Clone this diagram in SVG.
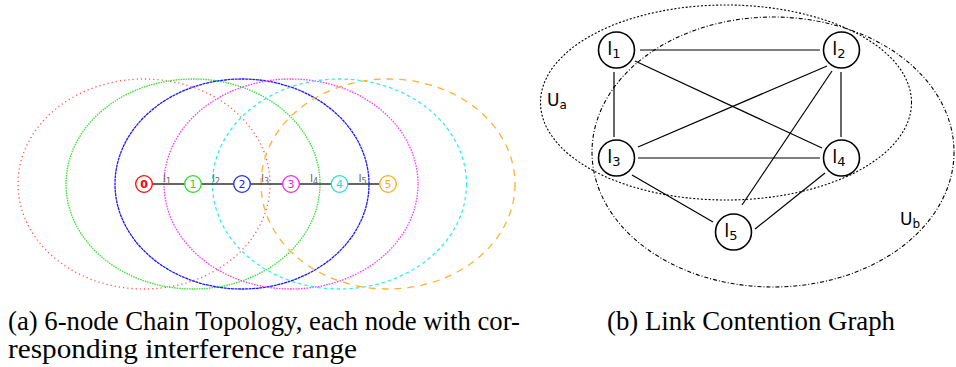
<svg xmlns="http://www.w3.org/2000/svg" width="956" height="367" viewBox="0 0 956 367">
<style>
.rng{fill:none;stroke-width:1.3}
.lnk{stroke:#333;stroke-width:1.3}
.n{fill:#fff;stroke-width:1.3}
.d{font-family:"DejaVu Sans",sans-serif;font-size:11px;text-anchor:middle}
.ll{font-family:"DejaVu Sans",sans-serif;font-size:11px;fill:#666}
.gn{fill:#fff;stroke:#000;stroke-width:1.6}
.ge{stroke:#000;stroke-width:1.2}
.gl{font-family:"DejaVu Sans",sans-serif;font-size:18px;fill:#000;text-anchor:middle}
.cap{font-family:"Liberation Serif","Times New Roman",serif;font-size:27px;fill:#000}
</style>
<rect width="956" height="367" fill="#fff"/>
<!-- left: interference ranges -->
<g id="ranges">
<ellipse class="rng" cx="144" cy="184" rx="126" ry="105" stroke="#ff5050" stroke-dasharray="1.2,3"/>
<ellipse class="rng" cx="193" cy="184" rx="127" ry="105" stroke="#33e033" stroke-dasharray="1.5,1"/>
<ellipse class="rng" cx="242" cy="184" rx="127" ry="105" stroke="#1a1aff" stroke-dasharray="3,0.6"/>
<ellipse class="rng" cx="291" cy="184" rx="127" ry="105" stroke="#ff33ff" stroke-dasharray="1.5,1.3"/>
<ellipse class="rng" cx="339.5" cy="184" rx="127" ry="105" stroke="#33eeee" stroke-dasharray="3.5,3"/>
<ellipse class="rng" cx="388" cy="184" rx="127" ry="105" stroke="#ffb030" stroke-dasharray="7,6"/>
</g>
<g id="chain-links">
<line class="lnk" x1="152.3" y1="184" x2="184.7" y2="184"/>
<line class="lnk" x1="201.3" y1="184" x2="233.7" y2="184"/>
<line class="lnk" x1="250.3" y1="184" x2="282.7" y2="184"/>
<line class="lnk" x1="299.3" y1="184" x2="331.2" y2="184"/>
<line class="lnk" x1="347.8" y1="184" x2="379.7" y2="184"/>
<text class="ll" x="163" y="182">l<tspan font-size="8" dy="2">1</tspan></text>
<text class="ll" x="212" y="182">l<tspan font-size="8" dy="2">2</tspan></text>
<text class="ll" x="261" y="182">l<tspan font-size="8" dy="2">3</tspan></text>
<text class="ll" x="310" y="182">l<tspan font-size="8" dy="2">4</tspan></text>
<text class="ll" x="358.5" y="182">l<tspan font-size="8" dy="2">5</tspan></text>
</g>
<g id="node0"><circle class="n" cx="144" cy="184" r="8.3" stroke="#ff0000"/><text class="d" x="144" y="188" fill="#ff0000" font-weight="bold">0</text></g>
<g id="node1"><circle class="n" cx="193" cy="184" r="8.3" stroke="#22dd22"/><text class="d" x="193" y="188" fill="#22dd22">1</text></g>
<g id="node2"><circle class="n" cx="242" cy="184" r="8.3" stroke="#2222ee"/><text class="d" x="242" y="188" fill="#2222ee">2</text></g>
<g id="node3"><circle class="n" cx="291" cy="184" r="8.3" stroke="#ee22ee"/><text class="d" x="291" y="188" fill="#ee22ee">3</text></g>
<g id="node4"><circle class="n" cx="339.5" cy="184" r="8.3" stroke="#22dddd"/><text class="d" x="339.5" y="188" fill="#22dddd">4</text></g>
<g id="node5"><circle class="n" cx="388" cy="184" r="8.3" stroke="#ffaa22"/><text class="d" x="388" y="188" fill="#ffaa22">5</text></g>
<!-- right: contention graph -->
<g id="sets">
<ellipse cx="726" cy="102.5" rx="185.5" ry="97.5" fill="none" stroke="#000" stroke-width="1.1" stroke-dasharray="2,1.8"/>
<ellipse cx="773" cy="152" rx="181" ry="135" fill="none" stroke="#000" stroke-width="1.1" stroke-dasharray="4,2,1,2"/>
<text x="547" y="106" font-family="DejaVu Sans,sans-serif" font-size="17" fill="#000">U<tspan font-size="12" dy="3">a</tspan></text>
<text x="900" y="225" font-family="DejaVu Sans,sans-serif" font-size="17" fill="#000">U<tspan font-size="12" dy="3">b</tspan></text>
</g>
<g id="edges">
<line class="ge" x1="640" y1="50" x2="820" y2="50"/>
<line class="ge" x1="614" y1="72" x2="614" y2="137" stroke="#444" stroke-width="1.5"/>
<line class="ge" x1="841" y1="72" x2="841" y2="137" stroke="#444" stroke-width="1.5"/>
<line class="ge" x1="635" y1="61" x2="822" y2="148"/>
<line class="ge" x1="638" y1="147" x2="827" y2="66"/>
<line class="ge" x1="638" y1="158" x2="820" y2="158"/>
<line class="ge" x1="832" y1="71" x2="742" y2="205"/>
<line class="ge" x1="632" y1="175" x2="713" y2="222"/>
<line class="ge" x1="825" y1="173" x2="755" y2="229"/>
</g>
<g id="l1"><circle class="gn" cx="616.5" cy="50" r="18"/><text class="gl" x="614" y="55">l<tspan font-size="13" dy="3">1</tspan></text></g>
<g id="l2"><circle class="gn" cx="841.5" cy="50" r="18"/><text class="gl" x="839" y="55">l<tspan font-size="13" dy="3">2</tspan></text></g>
<g id="l3"><circle class="gn" cx="616.5" cy="158" r="18"/><text class="gl" x="614" y="163">l<tspan font-size="13" dy="3">3</tspan></text></g>
<g id="l4"><circle class="gn" cx="841.5" cy="158" r="18"/><text class="gl" x="839" y="163">l<tspan font-size="13" dy="3">4</tspan></text></g>
<g id="l5"><circle class="gn" cx="733.5" cy="232" r="18"/><text class="gl" x="731" y="237">l<tspan font-size="13" dy="3">5</tspan></text></g>
<!-- captions -->
<text class="cap" x="8" y="330" textLength="512" lengthAdjust="spacingAndGlyphs">(a)  6-node Chain Topology, each node with cor-</text>
<text class="cap" x="8" y="358" textLength="349" lengthAdjust="spacingAndGlyphs">responding interference range</text>
<text class="cap" x="607" y="330" textLength="288" lengthAdjust="spacingAndGlyphs">(b)  Link Contention Graph</text>
</svg>
